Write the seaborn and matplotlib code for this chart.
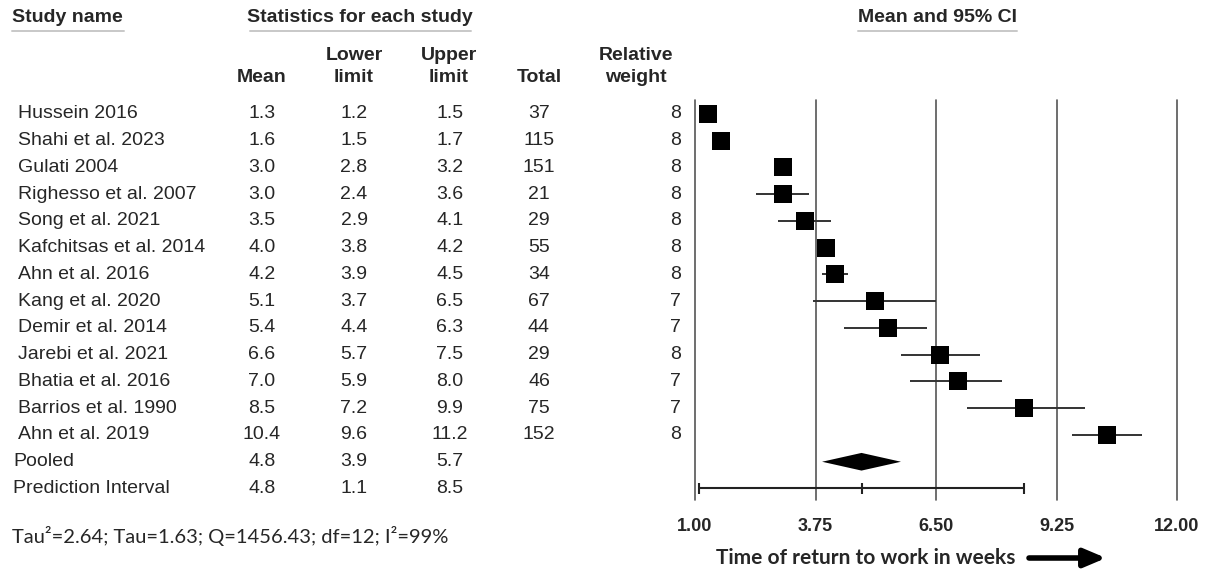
import matplotlib
matplotlib.use("Agg")
import matplotlib.pyplot as plt
from matplotlib.lines import Line2D
from matplotlib.transforms import blended_transform_factory
import pandas as pd
import seaborn as sns

# ---- data ----
studies = ["Hussein 2016", "Shahi et al. 2023", "Gulati 2004", "Righesso et al. 2007",
           "Song et al. 2021", "Kafchitsas et al. 2014", "Ahn et al. 2016", "Kang et al. 2020",
           "Demir et al. 2014", "Jarebi et al. 2021", "Bhatia et al. 2016", "Barrios et al. 1990",
           "Ahn et al. 2019"]
means = [1.3, 1.6, 3.0, 3.0, 3.5, 4.0, 4.2, 5.1, 5.4, 6.6, 7.0, 8.5, 10.4]
lowers = [1.2, 1.5, 2.8, 2.4, 2.9, 3.8, 3.9, 3.7, 4.4, 5.7, 5.9, 7.2, 9.6]
uppers = [1.5, 1.7, 3.2, 3.6, 4.1, 4.2, 4.5, 6.5, 6.3, 7.5, 8.0, 9.9, 11.2]
totals = [37, 115, 151, 21, 29, 55, 34, 67, 44, 29, 46, 75, 152]
weights = [8, 8, 8, 8, 8, 8, 8, 7, 7, 8, 7, 7, 8]
pooled = {"label": "Pooled", "mean": 4.8, "lower": 3.9, "upper": 5.7}
prediction = {"label": "Prediction Interval", "mean": 4.8, "lower": 1.1, "upper": 8.5}
xticks = [1.00, 3.75, 6.50, 9.25, 12.00]
stats_text = "Tau²=2.64; Tau=1.63; Q=1456.43; df=12; I²=99%"
axis_label = "Time of return to work in weeks"

df = pd.DataFrame({"study": studies, "mean": means, "lower": lowers,
                   "upper": uppers, "total": totals, "weight": weights})
df["row"] = range(len(df))
pooled_row = len(df)
pred_row = len(df) + 1

# ---- style ----
sns.set_style("white")
plt.rcParams["font.family"] = ["Liberation Sans", "DejaVu Sans"]
HEAD = ["Liberation Sans", "DejaVu Sans"]
CAL = ["Lato", "DejaVu Sans"]

W, H = 1214, 574
fig = plt.figure(figsize=(W / 100, H / 100), dpi=100)


def fx(px):
    return px / W


def fy(py):
    return 1 - py / H


# forest panel: x in weeks, y in row units (row 0 at top)
pitch = 26.75
row0 = 114
ax = fig.add_axes([fx(695), fy(500), 482 / W, 400 / H])
ax.set_xlim(xticks[0], xticks[-1])
ax.set_ylim((500 - row0) / pitch, (100 - row0) / pitch)
for s in ax.spines.values():
    s.set_visible(False)
ax.set_yticks([])
ax.set_xticks(xticks, labels=[f"{t:.2f}" for t in xticks],
              fontweight="bold", family=HEAD, fontsize=13)
ax.tick_params(axis="x", length=0, pad=13)

for t in xticks:
    ax.axvline(t, color="#555555", lw=1.2, zorder=1, clip_on=False)

# study CIs and point estimates
ax.hlines(df["row"], df["lower"], df["upper"], color="#333333", lw=1.4, zorder=2)
sns.scatterplot(data=df, x="mean", y="row", marker="s", s=150, color="black",
                edgecolor="black", linewidth=0, zorder=3, ax=ax, legend=False)
ax.set_xlabel("")
ax.set_ylabel("")

# pooled diamond
d = 0.33
ax.fill([pooled["lower"], pooled["mean"], pooled["upper"], pooled["mean"]],
        [pooled_row, pooled_row - d, pooled_row, pooled_row + d],
        color="black", lw=0, zorder=3)

# prediction interval
ax.hlines(pred_row, prediction["lower"], prediction["upper"], color="#222222", lw=1.5, zorder=3)
cap = 0.2
ax.vlines([prediction["lower"], prediction["mean"], prediction["upper"]],
          pred_row - cap, pred_row + cap, color="#222222", lw=1.5, zorder=3)

# ---- table ----
tr = blended_transform_factory(fig.transFigure, ax.transData)
fs = 14
cols = {"mean": 262, "lower": 354, "upper": 450, "total": 539}
for _, r in df.iterrows():
    y = r["row"]
    ax.text(fx(18), y, r["study"], transform=tr, ha="left", va="center", fontsize=fs, clip_on=False)
    for key in ["mean", "lower", "upper"]:
        ax.text(fx(cols[key]), y, f"{r[key]:.1f}", transform=tr, ha="center", va="center",
                fontsize=fs, clip_on=False)
    ax.text(fx(cols["total"]), y, f"{r['total']}", transform=tr, ha="center", va="center",
            fontsize=fs, clip_on=False)
    ax.text(fx(681), y, f"{r['weight']}", transform=tr, ha="right", va="center",
            fontsize=fs, clip_on=False)

for y, rec in [(pooled_row, pooled), (pred_row, prediction)]:
    ax.text(fx(13), y, rec["label"], transform=tr, ha="left", va="center", fontsize=fs, clip_on=False)
    for key in ["mean", "lower", "upper"]:
        ax.text(fx(cols[key]), y, f"{rec[key]:.1f}", transform=tr, ha="center", va="center",
                fontsize=fs, clip_on=False)

# ---- headers ----
hfs = 14
def header(px, py, s, ha="center"):
    fig.text(fx(px), fy(py), s, ha=ha, va="center", fontsize=hfs, fontweight="bold", family=HEAD)

def underline(x0, x1, py):
    fig.add_artist(Line2D([fx(x0), fx(x1)], [fy(py), fy(py)], color="#c8c8c8", lw=1.4,
                          transform=fig.transFigure))

header(12, 18, "Study name", ha="left")
underline(12, 124, 31)
header(360, 18, "Statistics for each study")
underline(250, 471, 31)
header(937, 18, "Mean and 95% CI")
underline(858, 1017, 31)

header(262, 77, "Mean")
header(354, 55, "Lower")
header(354, 77, "limit")
header(449, 55, "Upper")
header(449, 77, "limit")
header(539, 77, "Total")
header(636, 55, "Relative")
header(636, 77, "weight")

# ---- footnote and axis label ----
fig.text(fx(12), fy(536), stats_text, ha="left", va="center", fontsize=14.5, family=CAL)
fig.text(fx(716), fy(558), axis_label, ha="left", va="center", fontsize=15,
         fontweight="bold", family=CAL)
ax.annotate("", xy=(1106, H - 558), xytext=(1029, H - 558), xycoords="figure pixels",
            textcoords="figure pixels",
            arrowprops=dict(arrowstyle="-|>,head_length=1.3,head_width=0.55", lw=4,
                            color="black", shrinkA=0, shrinkB=0))

fig.savefig("out.png", dpi=100)
